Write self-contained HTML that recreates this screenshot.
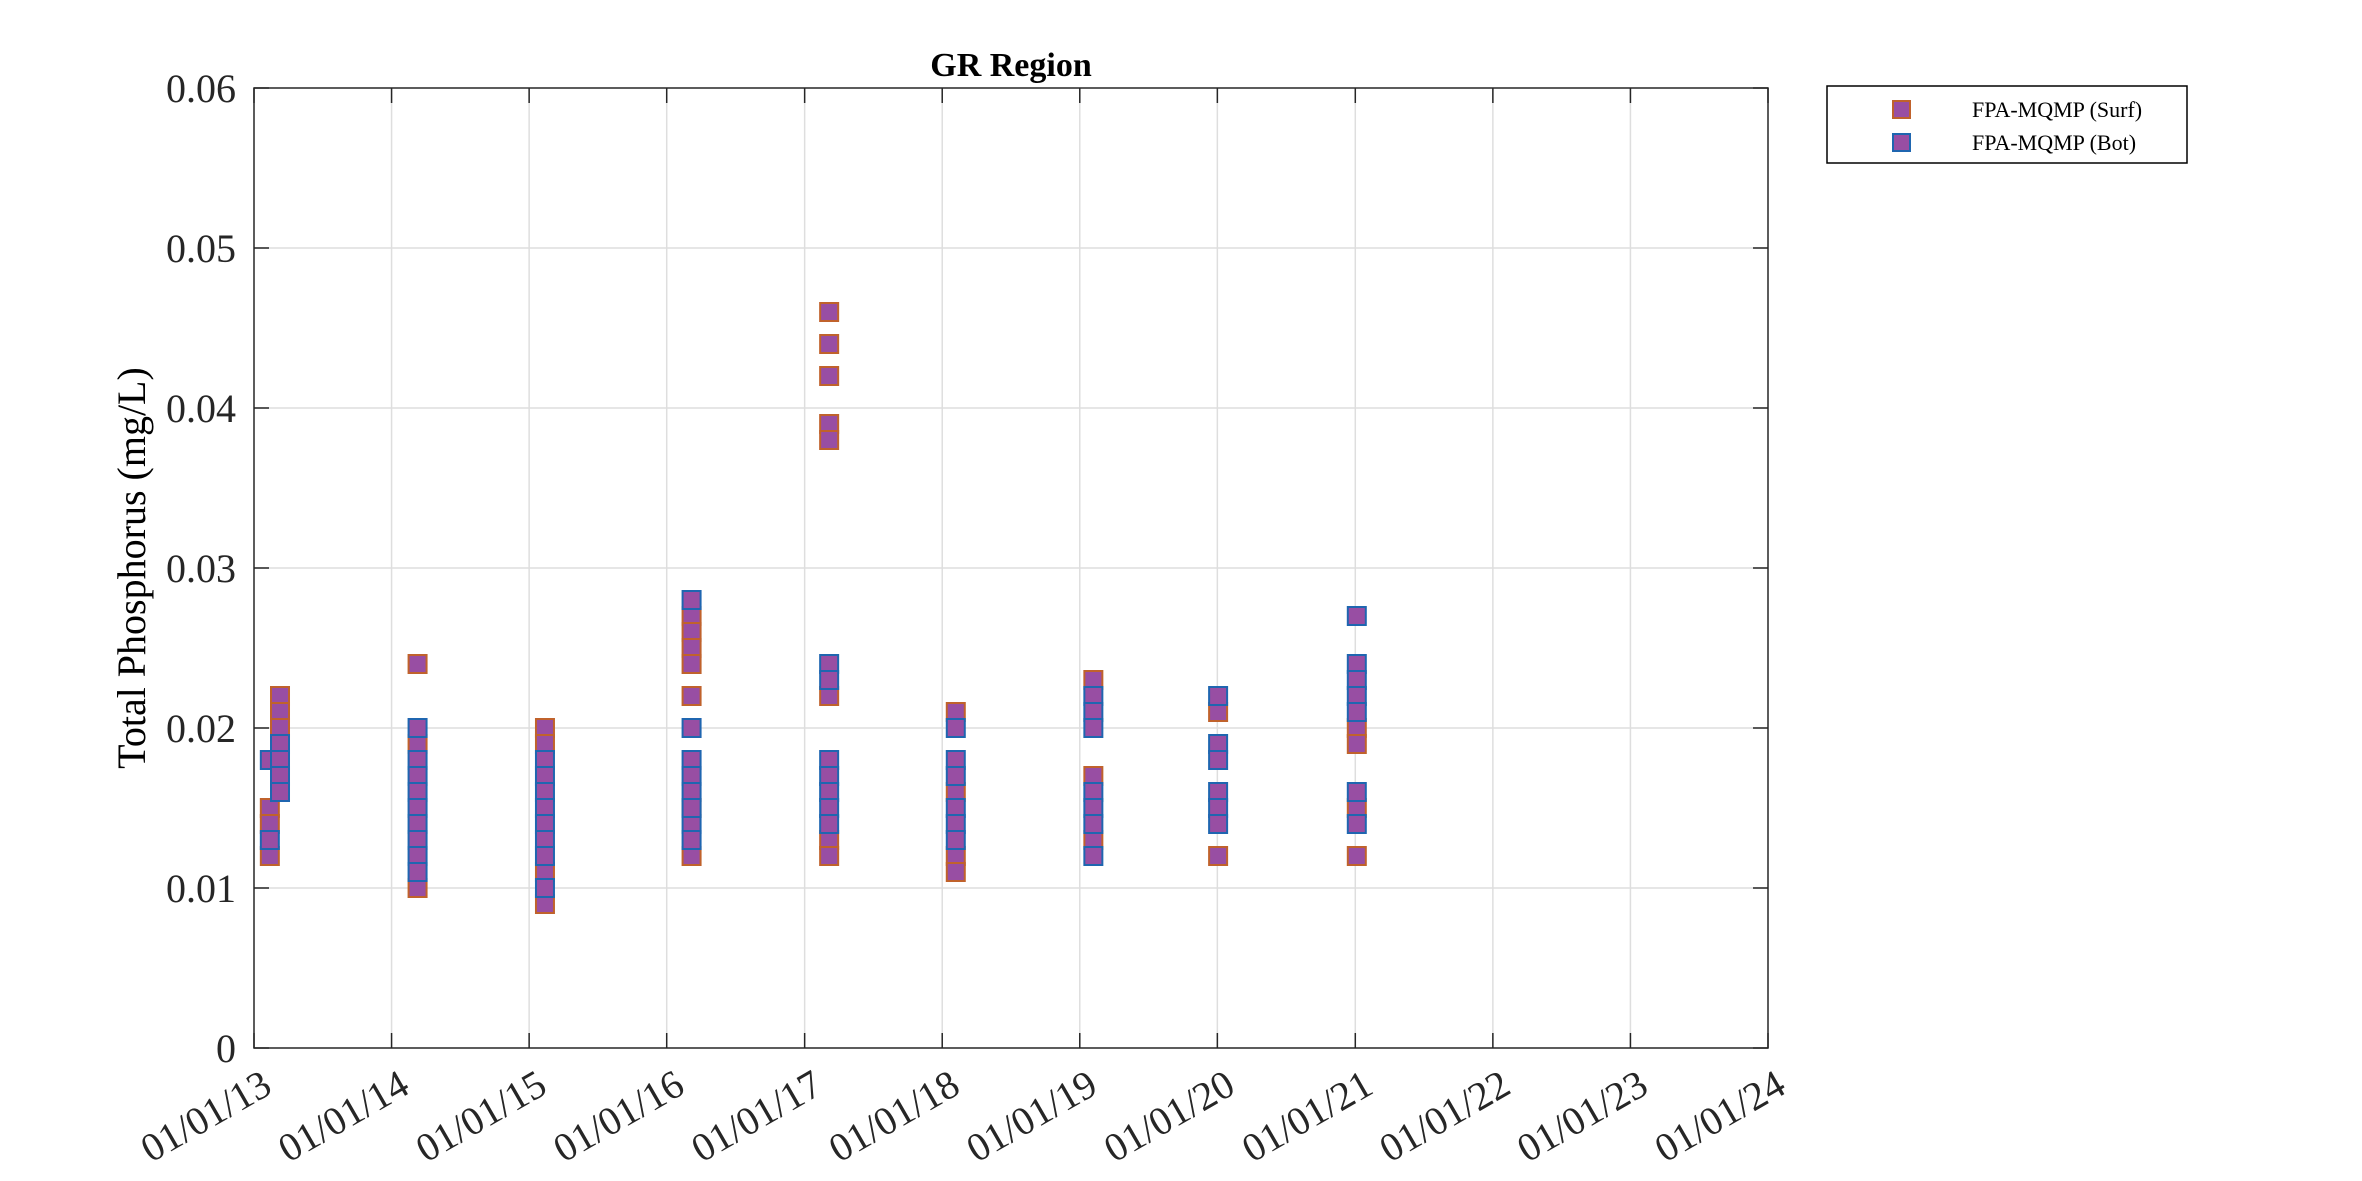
<!DOCTYPE html>
<html><head><meta charset="utf-8"><style>
html,body{margin:0;padding:0;background:#fff;}
svg{display:block;font-family:"Liberation Serif",serif;}
</style></head><body>
<svg id="chart" width="2362" height="1181" viewBox="0 0 2362 1181">
<g id="grid"></g>
<g id="axes"></g>
<g id="marks"></g>
<text x="1011" y="76" text-anchor="middle" font-size="34" font-weight="bold" fill="#000">GR Region</text>
<text transform="translate(145,568) rotate(-90)" text-anchor="middle" font-size="40" fill="#000">Total Phosphorus (mg/L)</text>
<g>
<rect x="1827" y="86" width="360" height="77" fill="#fff" stroke="#000" stroke-width="1.5"/>
<rect x="1893" y="101" width="17" height="17" fill="#984ea3" stroke="#c0622c" stroke-width="2"/>
<text x="1972" y="117" font-size="22">FPA-MQMP (Surf)</text>
<rect x="1893" y="134" width="17" height="17" fill="#984ea3" stroke="#1f66b0" stroke-width="2"/>
<text x="1972" y="150" font-size="22">FPA-MQMP (Bot)</text>
</g>
</svg>
<script>
const yTicks=[0,0.01,0.02,0.03,0.04,0.05,0.06];
const yTickLabels=["0","0.01","0.02","0.03","0.04","0.05","0.06"];
const xTickYears=[2013,2014,2015,2016,2017,2018,2019,2020,2021,2022,2023,2024];
const xTickLabels=["01/01/13","01/01/14","01/01/15","01/01/16","01/01/17","01/01/18","01/01/19","01/01/20","01/01/21","01/01/22","01/01/23","01/01/24"];
const surfDates=["2013-02-12","2013-02-12","2013-02-12","2013-03-11","2013-03-11","2013-03-11","2014-03-11","2014-03-11","2014-03-11","2015-02-12","2015-02-12","2015-02-12","2015-02-12","2016-03-07","2016-03-07","2016-03-07","2016-03-07","2016-03-07","2016-03-07","2016-03-07","2017-03-07","2017-03-07","2017-03-07","2017-03-07","2017-03-07","2017-03-07","2017-03-07","2017-03-07","2018-02-06","2018-02-06","2018-02-06","2018-02-06","2019-02-06","2019-02-06","2019-02-06","2020-01-03","2020-01-03","2021-01-05","2021-01-05","2021-01-05","2021-01-05"];
const surfValues=[0.015,0.014,0.012,0.022,0.021,0.020,0.024,0.019,0.010,0.020,0.019,0.011,0.009,0.027,0.026,0.025,0.024,0.022,0.015,0.012,0.046,0.044,0.042,0.039,0.038,0.022,0.013,0.012,0.021,0.016,0.012,0.011,0.023,0.017,0.013,0.021,0.012,0.020,0.019,0.015,0.012];
const botDates=["2013-02-12","2013-02-12","2013-03-11","2013-03-11","2013-03-11","2013-03-11","2014-03-11","2014-03-11","2014-03-11","2014-03-11","2014-03-11","2014-03-11","2014-03-11","2014-03-11","2014-03-11","2015-02-12","2015-02-12","2015-02-12","2015-02-12","2015-02-12","2015-02-12","2015-02-12","2015-02-12","2016-03-07","2016-03-07","2016-03-07","2016-03-07","2016-03-07","2016-03-07","2016-03-07","2016-03-07","2017-03-07","2017-03-07","2017-03-07","2017-03-07","2017-03-07","2017-03-07","2017-03-07","2018-02-06","2018-02-06","2018-02-06","2018-02-06","2018-02-06","2018-02-06","2019-02-06","2019-02-06","2019-02-06","2019-02-06","2019-02-06","2019-02-06","2019-02-06","2020-01-03","2020-01-03","2020-01-03","2020-01-03","2020-01-03","2020-01-03","2021-01-05","2021-01-05","2021-01-05","2021-01-05","2021-01-05","2021-01-05","2021-01-05"];
const botValues=[0.018,0.013,0.019,0.018,0.017,0.016,0.020,0.018,0.017,0.016,0.015,0.014,0.013,0.012,0.011,0.018,0.017,0.016,0.015,0.014,0.013,0.012,0.010,0.028,0.020,0.018,0.017,0.016,0.014,0.013,0.015,0.024,0.023,0.018,0.017,0.016,0.015,0.014,0.020,0.018,0.017,0.015,0.014,0.013,0.022,0.021,0.020,0.016,0.015,0.014,0.012,0.022,0.019,0.018,0.016,0.015,0.014,0.027,0.024,0.023,0.022,0.021,0.016,0.014];

const L=254,R=1768,T=88,B=1048,NS="http://www.w3.org/2000/svg";
const t0=Date.UTC(2013,0,1),t1=Date.UTC(2024,0,1);
function xDate(s){const p=s.split("-");return L+(Date.UTC(+p[0],+p[1]-1,+p[2])-t0)/(t1-t0)*(R-L);}
function xYear(y){return xDate(y+"-01-01");}
function yV(v){return B-(v/0.06)*(B-T);}
function mk(tag,attrs,parent){const e=document.createElementNS(NS,tag);for(const k in attrs)e.setAttribute(k,attrs[k]);parent.appendChild(e);return e;}
const grid=document.getElementById('grid'),axes=document.getElementById('axes'),marks=document.getElementById('marks');
yTicks.forEach((v,i)=>{const y=yV(v);
 if(i>0&&i<yTicks.length-1){const g=mk('line',{x1:L,x2:R,y1:y,y2:y,stroke:'#dedede','stroke-width':1.5},grid);
 
 }
 const t1e=mk('line',{x1:L,x2:L+15,y1:y,y2:y,stroke:'#262626','stroke-width':1.5},axes);
 
 
 const t2e=mk('line',{x1:R-15,x2:R,y1:y,y2:y,stroke:'#262626','stroke-width':1.5},axes);
 
 
 const lb=mk('text',{x:L-18,y:y+14,'text-anchor':'end','font-size':40,fill:'#262626'},axes);
 lb.textContent=yTickLabels[i];
 
 
});
xTickYears.forEach((yr,i)=>{const x=xYear(yr);
 if(i>0&&i<xTickYears.length-1){const g=mk('line',{x1:x,x2:x,y1:T,y2:B,stroke:'#dedede','stroke-width':1.5},grid);
 
 }
 const a=mk('line',{x1:x,x2:x,y1:B,y2:B-15,stroke:'#262626','stroke-width':1.5},axes);
 
 
 const b=mk('line',{x1:x,x2:x,y1:T,y2:T+15,stroke:'#262626','stroke-width':1.5},axes);
 
 
 const lb=mk('text',{transform:`translate(${x+20},${B+44}) rotate(-30)`,'text-anchor':'end','font-size':40,fill:'#262626'},axes);
 lb.textContent=xTickLabels[i];
 
 
});
const box=mk('rect',{x:L,y:T,width:R-L,height:B-T,fill:'none',stroke:'#262626','stroke-width':1.5},axes);


const S=18;
surfDates.forEach((d,i)=>{const r=mk('rect',{x:xDate(d)-S/2,y:yV(surfValues[i])-S/2,width:S,height:S,fill:'#984ea3',stroke:'#c0622c','stroke-width':2},marks);
 
 });
botDates.forEach((d,i)=>{const r=mk('rect',{x:xDate(d)-S/2,y:yV(botValues[i])-S/2,width:S,height:S,fill:'#984ea3',stroke:'#1f66b0','stroke-width':2},marks);
 
 });
</script>
</body></html>
